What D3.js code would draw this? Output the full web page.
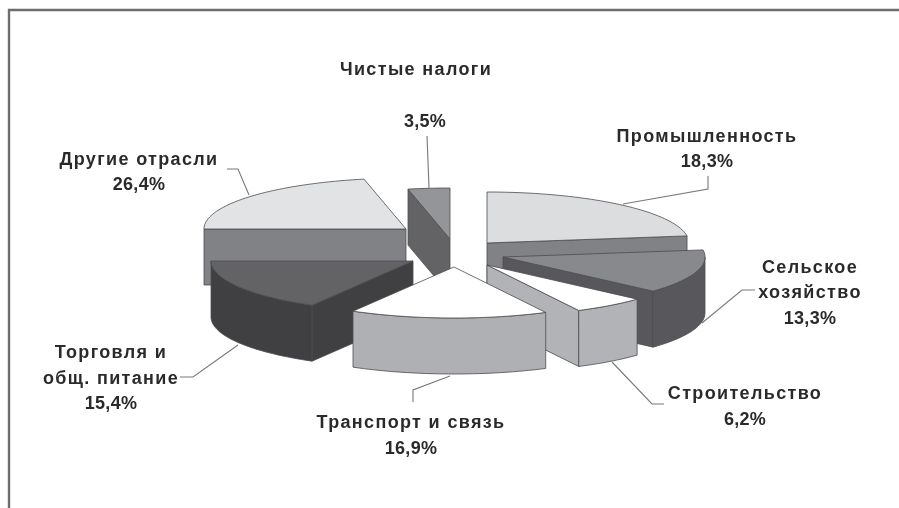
<!DOCTYPE html>
<html><head><meta charset="utf-8">
<script src="https://cdn.jsdelivr.net/npm/d3@7"></script>
<style>html,body{margin:0;padding:0;background:#fff}svg{display:block}</style>
</head><body><svg id="c" width="899" height="508"><defs><filter id="soft" x="0" y="0" width="100%" height="100%"><feGaussianBlur stdDeviation="0.45"/></filter></defs><g id="root" filter="url(#soft)"><rect width="899" height="508" fill="#fff"/></g></svg>
<script>
// --- data ---
const categories = ["Промышленность","Сельское хозяйство","Строительство","Транспорт и связь","Торговля и общ. питание","Другие отрасли","Чистые налоги"];
const shares = [18.3,13.3,6.2,16.9,15.4,26.4,3.5];
const shareLabels = ["18,3%","13,3%","6,2%","16,9%","15,4%","26,4%","3,5%"];

// --- styling / layout, indexed like categories ---
const topFill  = ["#dcddde","#87898c","#ffffff","#ffffff","#636466","#e2e3e4","#939598"];
const sideFill = ["#808285","#58595b","#b1b3b6","#aeb0b3","#414042","#808285","#636466"];
const explodeX = [487,503,487,454,413,406,450];   // exploded slice apex
const explodeY = [243,257,265,267,261,229,239];
const paintOrder = [5,6,0,1,4,2,3];
// the source's 3-D tilt foreshortens angles: apparent clockwise boundary angles, degrees from 12 o'clock
const apparentBoundaries = [0,82,132,153,210,270,348,360];
const RX = 202, RY = 51, DEPTH = 56;

const labelLines = [
  {x:707,y:142,dy:25,t:[categories[0],shareLabels[0]]},
  {x:810,y:272.5,dy:25.7,t:["Сельское","хозяйство",shareLabels[1]]},
  {x:745,y:399,dy:26,t:[categories[2],shareLabels[2]]},
  {x:411,y:428,dy:26,t:[categories[3],shareLabels[3]]},
  {x:111,y:358,dy:25.5,t:["Торговля и","общ. питание",shareLabels[4]]},
  {x:139,y:165,dy:25,t:[categories[5],shareLabels[5]]},
  {x:416,y:75,dy:52,t:[categories[6]]},
  {x:425,y:127,dy:0,t:[shareLabels[6]]},
];
const leaders = [
  [[708,176],[708,189],[623,204]],
  [[755,290],[742,290],[702,323]],
  [[664,404],[652,404],[612,362]],
  [[413,402],[413,390],[450,376]],
  [[180,377],[193,377],[238,345]],
  [[227,169],[238,169],[249,195]],
  [[427,136],[429,188]],
];

const svg = d3.select("#root");
// frame
svg.append("path").attr("d",d3.line()([[9,508],[9,10],[899,10]]))
  .attr("fill","none").attr("stroke","#6d6e70").attr("stroke-width",2.4);

const pie = d3.pie().sort(null).value(d=>d);
const arcs = pie(shares);
const apparent = d3.scaleLinear()
  .domain([...arcs.map(a=>a.startAngle),2*Math.PI])
  .range(apparentBoundaries.map(d=>d*Math.PI/180));
const line = d3.line();

function pt(i,ang,z=0){
  return [explodeX[i]+RX*Math.sin(ang), explodeY[i]-RY*Math.cos(ang)+z];
}
function arcPts(i,a0,a1,z=0){
  const n=Math.max(2,Math.ceil((a1-a0)/0.03));
  return d3.range(n+1).map(k=>pt(i,a0+(a1-a0)*k/n,z));
}
const edge="#4d4d4f";
function face(pts,fill){
  svg.append("path").attr("d",line(pts)+"Z").attr("fill",fill)
    .attr("stroke",edge).attr("stroke-width",0.8).attr("stroke-linejoin","round");
}
paintOrder.forEach(i=>{
  const a0=apparent(arcs[i].startAngle), a1=apparent(arcs[i].endAngle);
  const c=[explodeX[i],explodeY[i]], cz=[c[0],c[1]+DEPTH];
  if(Math.sin(a0)<-1e-6) face([c,pt(i,a0),pt(i,a0,DEPTH),cz],sideFill[i]);
  if(Math.sin(a1)>1e-6)  face([c,pt(i,a1),pt(i,a1,DEPTH),cz],sideFill[i]);
  const f0=Math.max(a0,Math.PI/2), f1=Math.min(a1,3*Math.PI/2);
  if(f1>f0) face([...arcPts(i,f0,f1),...arcPts(i,f0,f1,DEPTH).reverse()],sideFill[i]);
  face([c,...arcPts(i,a0,a1)],topFill[i]);
});
leaders.forEach(l=>svg.append("path").attr("d",line(l)).attr("fill","none")
  .attr("stroke","#77787b").attr("stroke-width",1.1));

const text=svg.append("g").attr("font-family","'Liberation Sans',Arial,sans-serif")
  .attr("font-size",18).attr("font-weight","bold").attr("fill","#2b2a2b")
  .attr("text-anchor","middle");
labelLines.forEach(l=>l.t.forEach((s,k)=>text.append("text").attr("x",l.x).attr("y",l.y+k*l.dy)
  .attr("letter-spacing",shareLabels.includes(s)?0.3:1.35).text(s)));
</script></body></html>
